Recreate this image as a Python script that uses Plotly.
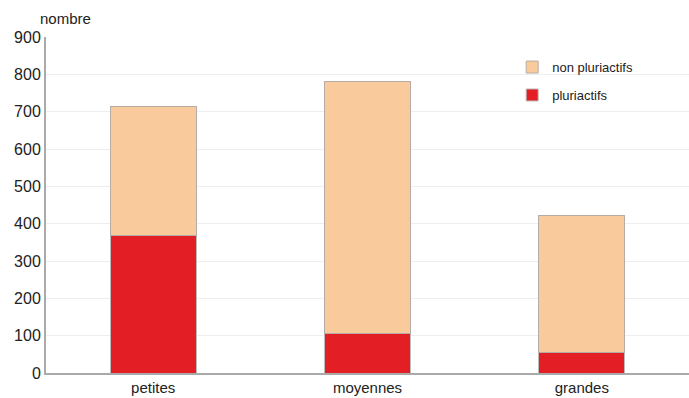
import plotly.graph_objects as go

categories = ["petites", "moyennes", "grandes"]
pluriactifs = [367, 107, 54]
non_pluriactifs = [348, 673, 369]
y_ticks = [0, 100, 200, 300, 400, 500, 600, 700, 800, 900]

fig = go.Figure()
fig.add_trace(go.Bar(
    x=categories, y=pluriactifs, name="pluriactifs", legendgroup="b", legendrank=2,
    marker=dict(color="#E31E24", line=dict(color="#BBBBBB", width=1)),
    width=0.4,
))
fig.add_trace(go.Bar(
    x=categories, y=non_pluriactifs, name="non pluriactifs", legendgroup="a", legendrank=1,
    marker=dict(color="#F9CB9C", line=dict(color="#B5ADA5", width=1)),
    width=0.4,
))

fig.update_layout(
    width=689, height=398,
    barmode="stack",
    plot_bgcolor="white", paper_bgcolor="white",
    margin=dict(l=46, r=0, t=37, b=25),
    font=dict(family="Liberation Sans, Arial, sans-serif", color="#222222"),
    showlegend=True,
    legend=dict(
        x=0.725, y=0.955, xanchor="left", yanchor="top",
        traceorder="grouped",
        tracegroupgap=8,
        font=dict(size=13),
        bgcolor="rgba(0,0,0,0)",
    ),
    xaxis=dict(
        showline=True, linecolor="#AAAAAA", linewidth=2,
        tickfont=dict(size=15), ticks="",
        range=[-0.5, 2.5],
    ),
    yaxis=dict(
        range=[0, 900], tickvals=y_ticks,
        showline=True, linecolor="#AAAAAA", linewidth=2,
        showgrid=True, gridcolor="#EEEEEE", gridwidth=1,
        tickfont=dict(size=16), ticks="",
        zeroline=False,
    ),
    annotations=[dict(
        text="nombre", xref="paper", yref="paper", x=-0.013, y=1.0,
        xanchor="left", yanchor="bottom", showarrow=False, yshift=8,
        font=dict(size=15),
    )],
)

fig.write_html(
    "out.html",
    config={"displayModeBar": False},
    post_script="document.body.style.margin='0';document.body.style.overflow='hidden';",
)
